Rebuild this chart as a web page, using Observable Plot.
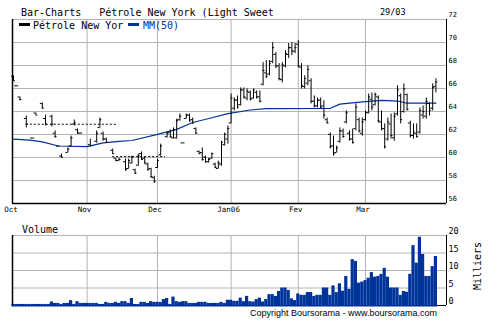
<!DOCTYPE html>
<html><head><meta charset="utf-8">
<script src="https://cdn.jsdelivr.net/npm/d3@7"></script>
<script src="https://cdn.jsdelivr.net/npm/@observablehq/plot@0.6"></script>
<style>
html,body{margin:0;padding:0;background:#fff;}
#chart{position:relative;width:490px;height:325px;overflow:hidden;background:#fff;}
#chart svg{position:absolute;left:0;}
</style></head><body><div id="chart"></div>
<script>
// ---- data (bar index = trading-day slot) ----
const monthIdx = [0, 23, 45, 68, 89, 110];
const monthLabels = ["Oct", "Nov", "Dec", "Jan06", "Fev", "Mar"];
const priceTicks = [56, 58, 60, 62, 64, 66, 68, 70, 72];
const volTicks = [0, 5, 10, 15, 20];

const high = [
67.10,66.23,65.26,null,63.61,null,61.69,63.87,null,64.75,
63.69,null,63.69,62.31,61.00,60.30,null,60.83,61.86,63.26,
62.48,62.13,null,null,61.60,null,62.31,63.43,62.21,61.69,
null,60.74,59.94,59.94,null,59.86,59.86,60.12,58.99,60.30,
60.48,60.03,59.51,59.07,58.37,59.86,61.16,null,62.22,62.39,
62.57,63.34,63.78,61.27,63.78,63.78,63.43,62.57,60.56,60.83,
60.12,59.94,60.39,59.51,59.68,61.42,62.13,62.74,65.52,65.17,
65.35,66.05,66.05,65.96,65.79,65.96,65.79,65.79,68.25,68.42,
68.42,69.99,69.13,68.16,68.25,69.29,69.91,69.99,69.91,70.17,
68.16,67.10,67.98,66.85,65.35,65.17,65.17,64.93,63.43,62.13,
61.86,61.00,62.57,62.48,64.05,62.31,62.48,64.66,63.43,63.43,
64.05,65.52,65.61,65.61,65.35,64.05,62.92,63.43,63.78,63.87,
66.23,65.52,66.40,65.52,63.16,62.92,62.92,64.31,64.48,65.17,
64.75,66.40,66.85];
const low = [
66.67,66.23,64.93,null,62.57,null,61.69,63.69,null,64.22,
62.74,null,62.65,61.69,61.00,59.94,null,60.39,60.91,62.74,
62.04,62.13,null,null,61.00,null,61.25,62.57,61.42,61.25,
null,60.30,59.68,59.68,null,58.81,58.99,59.42,58.54,59.24,
59.77,59.42,58.81,58.19,57.75,59.06,60.12,null,61.69,61.69,
61.60,61.60,63.16,61.27,63.34,63.08,62.92,62.04,60.30,59.68,
59.51,59.51,59.86,59.06,58.99,59.24,61.00,61.16,62.92,64.05,
64.22,64.48,65.08,64.93,64.93,65.08,65.08,64.75,66.23,66.85,
67.10,68.16,67.72,66.67,66.49,67.80,68.60,68.86,69.04,67.80,
65.96,65.96,66.23,64.66,64.31,64.31,64.22,63.34,62.92,60.74,
60.12,60.39,61.25,61.69,62.92,61.42,61.16,62.31,62.13,61.86,
63.16,63.78,64.05,64.48,63.00,62.31,60.74,61.42,61.60,61.42,
63.61,62.92,63.87,64.05,61.69,61.60,61.69,62.04,63.34,63.34,
63.61,64.05,65.61];
const open = [
67.06,66.23,65.26,null,63.39,null,61.69,63.87,null,64.69,
63.39,null,63.59,62.11,61.00,60.13,null,60.43,61.01,62.91,
62.41,62.13,null,null,61.11,null,61.41,62.61,62.11,61.61,
null,60.63,59.93,59.73,null,59.63,59.04,59.53,58.94,59.33,
60.33,59.93,59.43,59.04,58.24,59.13,60.23,null,61.81,62.21,
61.71,61.71,63.29,61.27,63.39,63.69,63.29,62.51,60.53,60.43,
60.03,59.63,59.93,59.43,59.04,59.43,61.11,61.61,63.00,64.29,
64.99,64.59,65.87,65.17,65.67,65.17,65.67,65.27,66.37,67.36,
67.26,68.36,68.96,67.96,66.77,67.96,68.96,69.55,69.25,69.85,
67.86,66.17,66.47,66.67,64.89,64.49,64.99,64.49,63.29,62.01,
61.01,60.43,61.41,62.31,63.09,62.11,61.61,62.51,63.29,62.11,
63.29,63.89,65.07,64.59,65.27,63.09,62.51,61.61,62.91,61.71,
63.79,65.37,63.99,65.47,63.00,61.91,62.11,62.21,63.69,63.59,
64.69,64.29,66.17];
const close = [
66.67,66.23,65.04,null,62.91,null,61.69,63.69,null,64.29,
62.91,null,62.91,61.81,61.00,60.03,null,60.73,61.71,63.01,
62.11,62.13,null,null,61.01,null,62.11,63.29,61.61,61.31,
null,60.33,59.73,59.83,null,58.94,59.73,60.03,58.64,60.13,
59.83,59.53,58.94,58.34,57.94,59.73,61.01,null,62.11,61.81,
62.41,63.21,63.59,61.27,63.69,63.19,63.01,62.11,60.33,59.83,
59.63,59.83,60.33,59.14,59.53,61.31,62.01,62.51,65.17,64.99,
64.39,65.87,65.27,65.77,65.07,65.87,65.27,64.89,67.56,67.06,
68.16,69.55,67.96,66.87,68.06,69.05,69.55,69.25,69.55,67.96,
66.27,66.87,67.66,64.89,64.49,64.99,64.39,63.69,63.01,60.93,
60.33,60.83,62.31,61.81,63.89,61.61,61.31,64.39,62.31,63.09,
63.89,65.27,64.39,65.47,63.19,62.51,60.93,63.09,61.91,63.59,
65.87,63.29,65.97,64.19,61.91,62.21,61.81,64.09,63.99,64.89,
64.09,66.07,66.57];
const volume = [
0.3,0.3,0.3,0.3,0.3,0.3,0.3,0.3,0.3,0.3,
0.3,0.3,1.0,0.6,0.6,0.3,0.6,0.6,1.4,0.3,
1.1,0.6,0.6,0.6,0.6,0.6,0.6,0.3,0.3,0.9,
0.6,0.6,0.9,0.6,1.1,1.1,0.6,2.0,0.3,0.3,
0.9,0.9,0.6,1.1,0.9,0.9,0.9,1.7,2.0,0.3,
2.4,1.1,0.9,1.1,1.1,0.6,0.6,0.6,0.9,0.9,
0.9,0.6,0.6,0.6,0.6,0.9,0.6,1.5,1.5,1.2,
1.2,2.1,1.1,2.6,1.1,1.0,1.7,2.1,1.0,1.7,
3.1,3.1,2.6,4.0,5.0,5.0,4.3,1.9,1.4,3.3,
2.9,2.9,3.7,3.7,2.6,2.9,2.9,5.0,5.0,2.9,
5.6,3.7,6.2,4.1,8.3,4.6,13.1,12.6,6.4,6.7,
7.1,7.8,9.4,8.1,8.3,8.9,10.6,8.1,5.0,5.0,
5.0,2.9,4.0,3.8,8.9,17.1,12.1,19.5,14.6,8.3,
8.3,11.1,14.0];
// moving average MM(50), read at a few bar slots
const maIdx = [0, 5, 9, 14, 23, 28, 33, 37, 45, 51, 56, 62, 67, 74, 79, 99, 102, 109, 115, 120, 123, 132];
const maVal = [61.60, 61.51, 61.36, 61.00, 60.94, 61.27, 61.40, 61.48, 62.01, 62.45, 63.04, 63.46, 63.81, 64.13, 64.25, 64.28, 64.64, 64.84, 64.97, 64.91, 64.72, 64.72];
// dotted levels
const dashLevel = [62.89, 60.08];
const dashFrom = [4, 31];
const dashTo = [32.5, 47.5];

const titleText = "Bar-Charts   Pétrole New York (Light Sweet";
const dateText = "29/03";
const seriesNames = ["Pétrole New Yor", "MM(50)"];

// ---- build ----
const bars = high.map((h, i) => ({i, high: h, low: low[i], open: open[i], close: close[i]})).filter(d => d.high != null);
const vols = volume.map((v, i) => ({i, v}));
const ma = maIdx.map((i, k) => ({i, v: maVal[k]}));
const dashes = dashLevel.map((y, k) => ({y, x1: dashFrom[k], x2: dashTo[k]}));

const GRID = "#b4b4b4", BLUE = "#003399", MONO = "DejaVu Sans Mono, monospace";
const xDomain = [-0.3125, 135.3125];
const chart = document.getElementById("chart");

const price = Plot.plot({
  width: 490, height: 215,
  marginLeft: 12, marginRight: 44, marginTop: 19, marginBottom: 12,
  x: {domain: xDomain, axis: null},
  y: {domain: [56, 72], axis: null},
  style: {background: "transparent", fontFamily: MONO, fontSize: "7px", color: "#000"},
  marks: [
    Plot.ruleY(priceTicks.slice(1), {stroke: GRID}),
    Plot.ruleX(monthIdx.slice(1), {stroke: GRID}),
    Plot.ruleY(dashes, {y: "y", x1: "x1", x2: "x2", stroke: "#000", strokeDasharray: "2,2"}),
    Plot.line(ma, {x: "i", y: "v", stroke: BLUE, strokeWidth: 1.2}),
    Plot.ruleX(bars, {x: "i", y1: "low", y2: "high", stroke: "#000"}),
    Plot.ruleY(bars, {y: "open", x1: d => d.i - 0.6, x2: d => d.i, stroke: "#000"}),
    Plot.ruleY(bars, {y: "close", x1: d => d.i, x2: d => d.i + 0.6, stroke: "#000"}),
    Plot.ruleX([xDomain[0]], {stroke: "#000", strokeWidth: 1.5}),
    Plot.ruleX([xDomain[1]], {stroke: "#000"}),
    Plot.ruleY([priceTicks[0]], {stroke: "#000", strokeWidth: 1.5}),
    Plot.axisY(priceTicks, {anchor: "right", tickSize: 0, tickPadding: 2, dy: -5, fontSize: 7, label: null}),
    Plot.axisX(monthIdx, {anchor: "bottom", tickSize: 0, tickPadding: 3, dx: -2.5, fontSize: 7.5,
      tickFormat: d => monthLabels[monthIdx.indexOf(d)], label: null})
  ]
});
price.style.top = "0px";
chart.appendChild(price);

const vol = Plot.plot({
  width: 490, height: 110,
  marginLeft: 12, marginRight: 44, marginTop: 20, marginBottom: 20,
  x: {domain: xDomain, axis: null},
  y: {domain: [0, 20], axis: null},
  style: {background: "transparent", fontFamily: MONO, fontSize: "8px", color: "#000"},
  marks: [
    Plot.ruleY(volTicks.slice(1), {stroke: GRID}),
    Plot.ruleX(monthIdx.slice(1), {stroke: GRID}),
    Plot.ruleY([0], {stroke: "#000"}),
    Plot.rect(vols, {x1: d => d.i - 0.5, x2: d => d.i + 0.5, y1: 0, y2: "v", fill: BLUE, insetBottom: -1.5}),
    Plot.ruleX([xDomain[0]], {stroke: "#000", strokeWidth: 1.5}),
    Plot.ruleX([xDomain[1]], {stroke: "#000"}),
    Plot.axisY(volTicks, {anchor: "right", tickSize: 0, tickPadding: 2, dy: -4, fontSize: 8.5, label: null})
  ]
});
vol.style.top = "215px";
chart.appendChild(vol);

// ---- texts: title, legend, panel labels, copyright ----
const ov = d3.select(chart).append("svg")
  .attr("width", 490).attr("height", 325)
  .style("top", "0px").style("pointer-events", "none")
  .attr("font-family", MONO);
ov.append("text").attr("x", 21).attr("y", 16).attr("font-size", 10)
  .style("white-space", "pre").text(titleText);
ov.append("text").attr("x", 380).attr("y", 15).attr("font-size", 8.5).text(dateText);
ov.append("line").attr("x1", 19).attr("x2", 30).attr("y1", 24.5).attr("y2", 24.5)
  .attr("stroke", "#000").attr("stroke-width", 3);
ov.append("text").attr("x", 33).attr("y", 29).attr("font-size", 10).text(seriesNames[0]);
ov.append("line").attr("x1", 128).attr("x2", 139).attr("y1", 24.5).attr("y2", 24.5)
  .attr("stroke", BLUE).attr("stroke-width", 3);
ov.append("text").attr("x", 143).attr("y", 29).attr("font-size", 10).attr("fill", BLUE).text(seriesNames[1]);
ov.append("text").attr("x", 22).attr("y", 233).attr("font-size", 10).text("Volume");
ov.append("text").attr("transform", "translate(481,266) rotate(-90)").attr("text-anchor", "middle")
  .attr("font-size", 10).text("Milliers");
ov.append("text").attr("x", 250).attr("y", 316).attr("font-size", 9)
  .attr("font-family", "Liberation Sans, Arial, sans-serif").text("Copyright Boursorama - www.boursorama.com");
</script></body></html>
